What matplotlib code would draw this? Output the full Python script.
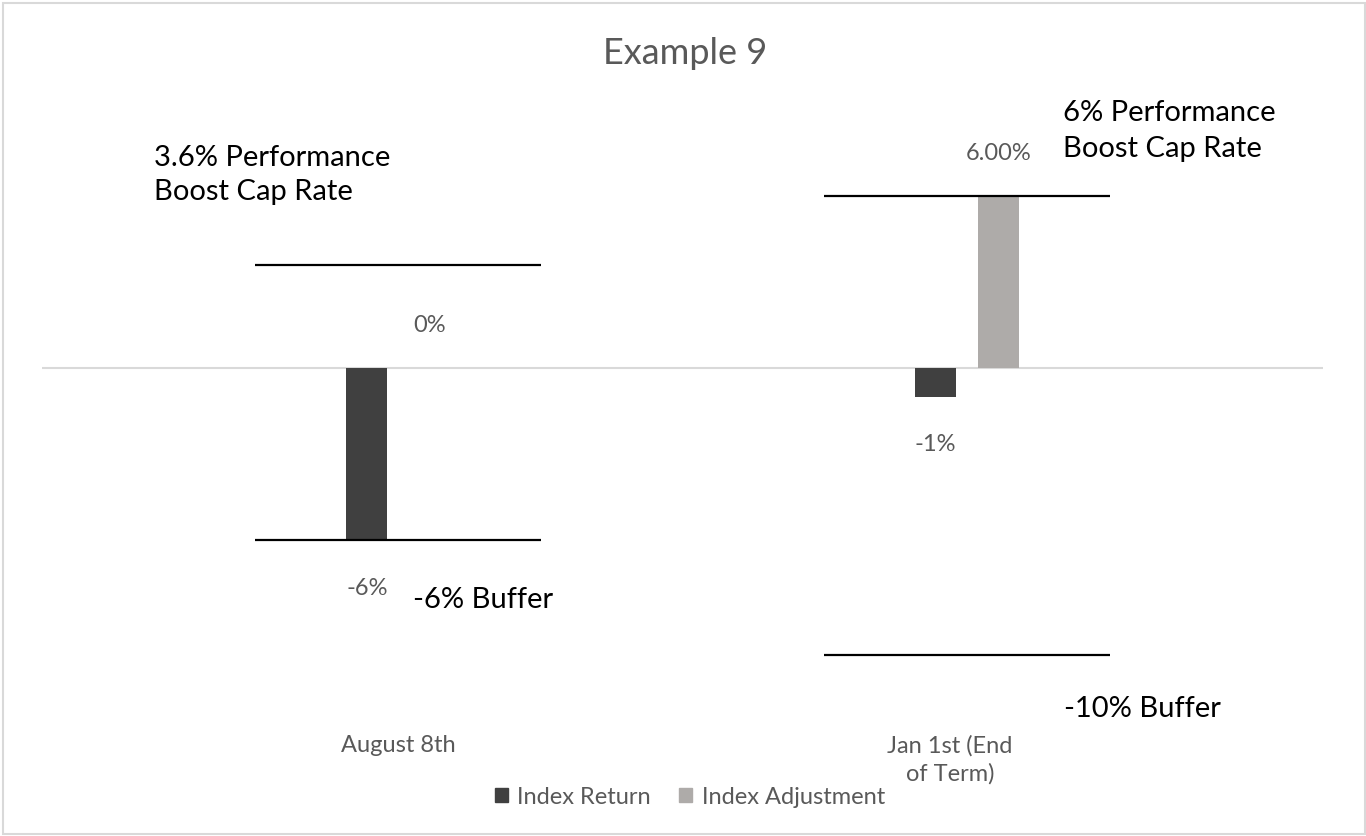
import numpy as np
import matplotlib.pyplot as plt
from matplotlib.patches import Patch

# Data (values in %)
CATEGORIES = ["August 8th", "Jan 1st (End\nof Term)"]
INDEX_RETURN = [-6, -1]
INDEX_ADJUSTMENT = [0, 6]
RETURN_LABELS = ["-6%", "-1%"]
ADJUST_LABELS = ["0%", "6.00%"]
CAP_RATES = [3.6, 6]
BUFFERS = [-6, -10]
CAP_TEXT = ["3.6% Performance\nBoost Cap Rate", "6% Performance\nBoost Cap Rate"]
BUFFER_TEXT = ["-6% Buffer", "-10% Buffer"]

W, H = 1366, 836
DARK = "#404040"
LIGHT = "#AEABA9"
GREY_TEXT = "#595959"
SMALL = 17
BIG = 21

plt.rcParams['font.family'] = ['Lato', 'DejaVu Sans']

fig = plt.figure(figsize=(W / 100, H / 100), dpi=100)


def fx(px):
    return px / W


def fy(py):
    return 1 - py / H


# axes spans pixel x 42..1323, y 60..760
ax = fig.add_axes([fx(42), fy(760), fx(1323) - fx(42), (760 - 60) / H])
ax.set_xlim(-0.626, 1.626)
ppu = 28.67  # pixels per percent
ax.set_ylim(-(760 - 368) / ppu, (368 - 60) / ppu)
ax.axis('off')

x = np.arange(len(CATEGORIES))
bw = 0.072
off = 0.055

ax.axhline(0, color="#D9D9D9", lw=1.5, zorder=1)
ax.bar(x - off, INDEX_RETURN, bw, color=DARK, zorder=2)
ax.bar(x + off, INDEX_ADJUSTMENT, bw, color=LIGHT, zorder=2)

# cap and buffer lines
for i in x:
    ax.hlines([CAP_RATES[i], BUFFERS[i]], i - 0.251, i + 0.251,
              color="black", lw=1.6, zorder=3)

# data labels
for i in x:
    ax.annotate(RETURN_LABELS[i], (i - off, INDEX_RETURN[i]), xytext=(0, -48),
                textcoords="offset pixels", ha="center", va="center",
                fontsize=SMALL, color=GREY_TEXT)
    ax.annotate(ADJUST_LABELS[i], (i + off, INDEX_ADJUSTMENT[i]), xytext=(0, 42),
                textcoords="offset pixels", ha="center", va="center",
                fontsize=SMALL, color=GREY_TEXT)

# category labels
cat_px = [398, 950]
for lab, px in zip(CATEGORIES, cat_px):
    fig.text(fx(px), fy(735), lab, ha="center", va="top", fontsize=SMALL,
             color=GREY_TEXT, linespacing=1.35)

# annotation text boxes
fig.text(fx(154), fy(175), CAP_TEXT[0], ha="left", va="center", fontsize=BIG,
         color="black", linespacing=1.4)
fig.text(fx(1063), fy(131), CAP_TEXT[1], ha="left", va="center", fontsize=BIG,
         color="black", linespacing=1.45)
fig.text(fx(413), fy(600), BUFFER_TEXT[0], ha="left", va="center", fontsize=BIG,
         color="black")
fig.text(fx(1064), fy(709), BUFFER_TEXT[1], ha="left", va="center", fontsize=BIG,
         color="black")

# title
fig.text(fx(685), fy(53), "Example 9", ha="center", va="center", fontsize=26,
         color=GREY_TEXT)

# legend
handles = [Patch(color=DARK, label="Index Return"),
           Patch(color=LIGHT, label="Index Adjustment")]
fig.legend(handles=handles, loc="center", bbox_to_anchor=(fx(690), fy(797)),
           ncol=2, frameon=False, fontsize=SMALL, handlelength=0.55,
           handleheight=0.55, handletextpad=0.4, columnspacing=1.2,
           labelcolor=GREY_TEXT)

# outer border
fig.patches.append(plt.Rectangle((fx(3), fy(834)), fx(1362), (834 - 3) / H,
                                 transform=fig.transFigure, fill=False,
                                 edgecolor="#D9D9D9", lw=1.5))

fig.savefig("out.png", dpi=100, facecolor="white")
